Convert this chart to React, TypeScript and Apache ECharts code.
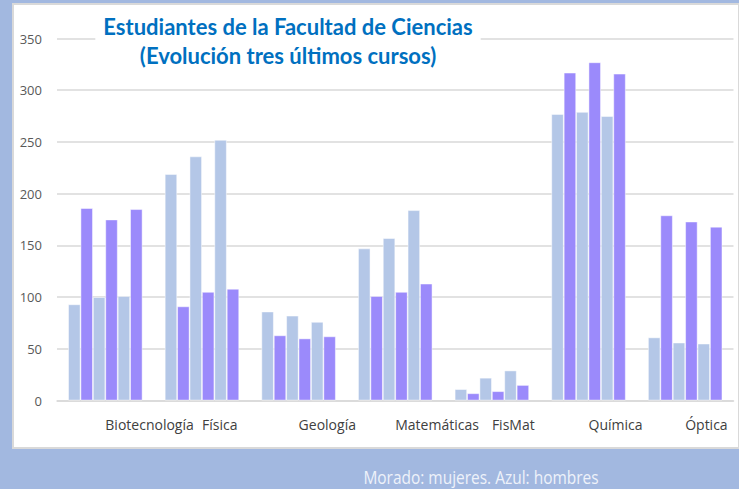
import React, { useEffect, useRef } from "react";
import * as echarts from "echarts";

const categories = ["Biotecnología", "Física", "Geología", "Matemáticas", "FisMat", "Química", "Óptica"];
const hombresCurso1 = [93, 219, 86, 147, 11, 277, 61];
const mujeresCurso1 = [186, 91, 63, 101, 7, 317, 179];
const hombresCurso2 = [100, 236, 82, 157, 22, 279, 56];
const mujeresCurso2 = [175, 105, 60, 105, 9, 327, 173];
const hombresCurso3 = [101, 252, 76, 184, 29, 275, 55];
const mujeresCurso3 = [185, 108, 62, 113, 15, 316, 168];

const AZUL = "#b4c7e7";
const MORADO = "#9b8afb";

export default function App() {
  const ref = useRef<HTMLDivElement>(null);
  useEffect(() => {
    if (!ref.current) return;
    const chart = echarts.init(ref.current, undefined, { renderer: "svg" });
    const mk = (name: string, data: number[], color: string) => ({
      name,
      type: "bar",
      data,
      barGap: "0%",
      barCategoryGap: "23%",
      itemStyle: { color, borderColor: "rgba(255,255,255,0.6)", borderWidth: 0.8 },
    });
    chart.setOption({
      animation: false,
      backgroundColor: "#a2b8e0",
      graphic: [
        {
          type: "rect",
          z: -10,
          shape: { x: 13, y: 4, width: 726, height: 444 },
          style: { fill: "#ffffff", stroke: "#d9d9d9", lineWidth: 2 },
        },
        {
          type: "text",
          z: 100,
          x: 288,
          y: 12,
          style: {
            text: "Estudiantes de la Facultad de Ciencias\n(Evolución tres últimos cursos)",
            align: "center",
            fill: "#0070c0",
            font: "bold 22px Lato, 'Open Sans', sans-serif",
            lineHeight: 29,
            backgroundColor: "#ffffff",
            padding: [0, 8, 2, 8],
          },
        },
        {
          type: "text",
          x: 481,
          y: 477,
          scaleX: 0.86,
          style: {
            text: "Morado: mujeres. Azul: hombres",
            align: "center",
            verticalAlign: "middle",
            fill: "#eef2fa",
            font: "18px 'Open Sans', sans-serif",
            lineHeight: 18,
          },
        },
      ],
      grid: { left: 57, right: 5.5, top: 38.5, bottom: 88.5, containLabel: false },
      xAxis: {
        type: "category",
        data: categories,
        axisTick: { show: false },
        axisLine: { lineStyle: { color: "#d9d9d9", width: 1.5 } },
        axisLabel: {
          align: "left",
          margin: 17,
          color: "#404040",
          fontSize: 14,
          fontFamily: "'Open Sans', sans-serif",
          interval: 0,
        },
      },
      yAxis: {
        type: "value",
        min: 0,
        max: 350,
        interval: 50,
        axisLine: { show: false },
        axisTick: { show: false },
        axisLabel: { color: "#595959", fontSize: 13, margin: 15, fontFamily: "'Open Sans', sans-serif" },
        splitLine: { lineStyle: { color: "#d9d9d9", width: 1.5 } },
      },
      series: [
        mk("Hombres curso 1", hombresCurso1, AZUL),
        mk("Mujeres curso 1", mujeresCurso1, MORADO),
        mk("Hombres curso 2", hombresCurso2, AZUL),
        mk("Mujeres curso 2", mujeresCurso2, MORADO),
        mk("Hombres curso 3", hombresCurso3, AZUL),
        mk("Mujeres curso 3", mujeresCurso3, MORADO),
      ],
    });
    return () => chart.dispose();
  }, []);
  return (
    <div
      ref={ref}
      style={{ position: "fixed", left: 0, top: 0, width: 739, height: 489 }}
    />
  );
}
